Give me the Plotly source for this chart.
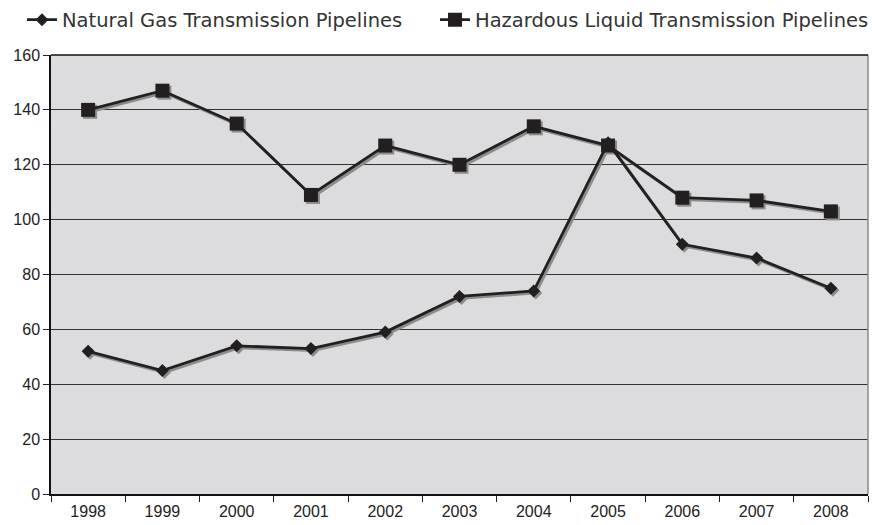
import plotly.graph_objects as go

years = ["1998", "1999", "2000", "2001", "2002", "2003", "2004", "2005", "2006", "2007", "2008"]
natural_gas = [52, 45, 54, 53, 59, 72, 74, 128, 91, 86, 75]
hazardous_liquid = [140, 147, 135, 109, 127, 120, 134, 127, 108, 107, 103]
y_ticks = [0, 20, 40, 60, 80, 100, 120, 140, 160]

INK = "#231f20"
SHADOW = "#8c8c8c"

fig = go.Figure()

# shadow traces (base axes, slightly shifted ranges)
fig.add_trace(go.Scatter(x=years, y=natural_gas, mode="lines+markers", showlegend=False,
                         line=dict(color=SHADOW, width=2.8),
                         marker=dict(symbol="diamond", size=10, color=SHADOW),
                         hoverinfo="skip", xaxis="x", yaxis="y"))
fig.add_trace(go.Scatter(x=years, y=hazardous_liquid, mode="lines+markers", showlegend=False,
                         line=dict(color=SHADOW, width=2.8),
                         marker=dict(symbol="square", size=14, color=SHADOW),
                         hoverinfo="skip", xaxis="x", yaxis="y"))

# real traces
fig.add_trace(go.Scatter(x=years, y=natural_gas, mode="lines+markers",
                         name="Natural Gas Transmission Pipelines",
                         line=dict(color=INK, width=2.8),
                         marker=dict(symbol="diamond", size=10, color=INK),
                         xaxis="x2", yaxis="y2", legend="legend"))
fig.add_trace(go.Scatter(x=years, y=hazardous_liquid, mode="lines+markers",
                         name="Hazardous Liquid Transmission Pipelines",
                         line=dict(color=INK, width=2.8),
                         marker=dict(symbol="square", size=14, color=INK),
                         xaxis="x2", yaxis="y2", legend="legend2"))

# page body adds 8px offset; figure is sized so the plot lands where the reference has it
W, H = 871, 517
ml, mr, mt, mb = 43, 11, 47, 31
pw, ph = W - ml - mr, H - mt - mb

dx = 2.0 / (pw / len(years))
dy = 2.0 / (ph / 160.0)

legend_font = dict(size=19.5, color="#333333", family="DejaVu Sans, sans-serif")
legend_y = 1 + (mt - 12) / ph

fig.update_layout(
    width=W, height=H,
    margin=dict(l=ml, r=mr, t=mt, b=mb, autoexpand=False),
    paper_bgcolor="white",
    plot_bgcolor="#dcdcde",
    font=dict(family="Liberation Sans, Arial, sans-serif", color="#222222", size=16),
    showlegend=True,
    legend=dict(orientation="h", x=(14 - ml) / pw, xanchor="left",
                y=legend_y, yanchor="middle", font=legend_font,
                bgcolor="rgba(0,0,0,0)", itemwidth=30),
    legend2=dict(orientation="h", x=(427 - ml) / pw, xanchor="left",
                 y=legend_y, yanchor="middle", font=legend_font,
                 bgcolor="rgba(0,0,0,0)", itemwidth=30),
    xaxis=dict(type="category", range=[-0.5 - dx, len(years) - 0.5 - dx], visible=False,
               fixedrange=True),
    yaxis=dict(range=[0 + dy, 160 + dy], visible=False, fixedrange=True),
    xaxis2=dict(type="category", overlaying="x", side="bottom",
                range=[-0.5, len(years) - 0.5],
                tickson="boundaries", ticks="outside", ticklen=6, tickcolor="#222222",
                showline=True, linecolor="#111111", linewidth=1.5,
                showgrid=False, tickfont=dict(size=16, color="#222222"),
                ticklabelstandoff=2),
    yaxis2=dict(overlaying="y", side="left", range=[0, 160], tickvals=y_ticks,
                ticks="outside", ticklen=6, tickcolor="#222222",
                showline=True, linecolor="#111111", linewidth=1.5,
                showgrid=True, gridcolor="#333333", gridwidth=1,
                zeroline=False, tickfont=dict(size=16, color="#222222")),
    shapes=[
        dict(type="line", xref="paper", yref="paper", x0=1, x1=1, y0=0, y1=1,
             line=dict(color="#8a8a8a", width=1.5)),
        dict(type="line", xref="paper", yref="paper", x0=0, x1=1, y0=1, y1=1,
             line=dict(color="#111111", width=1.5)),
    ],
)

fig.write_html("out.html")
